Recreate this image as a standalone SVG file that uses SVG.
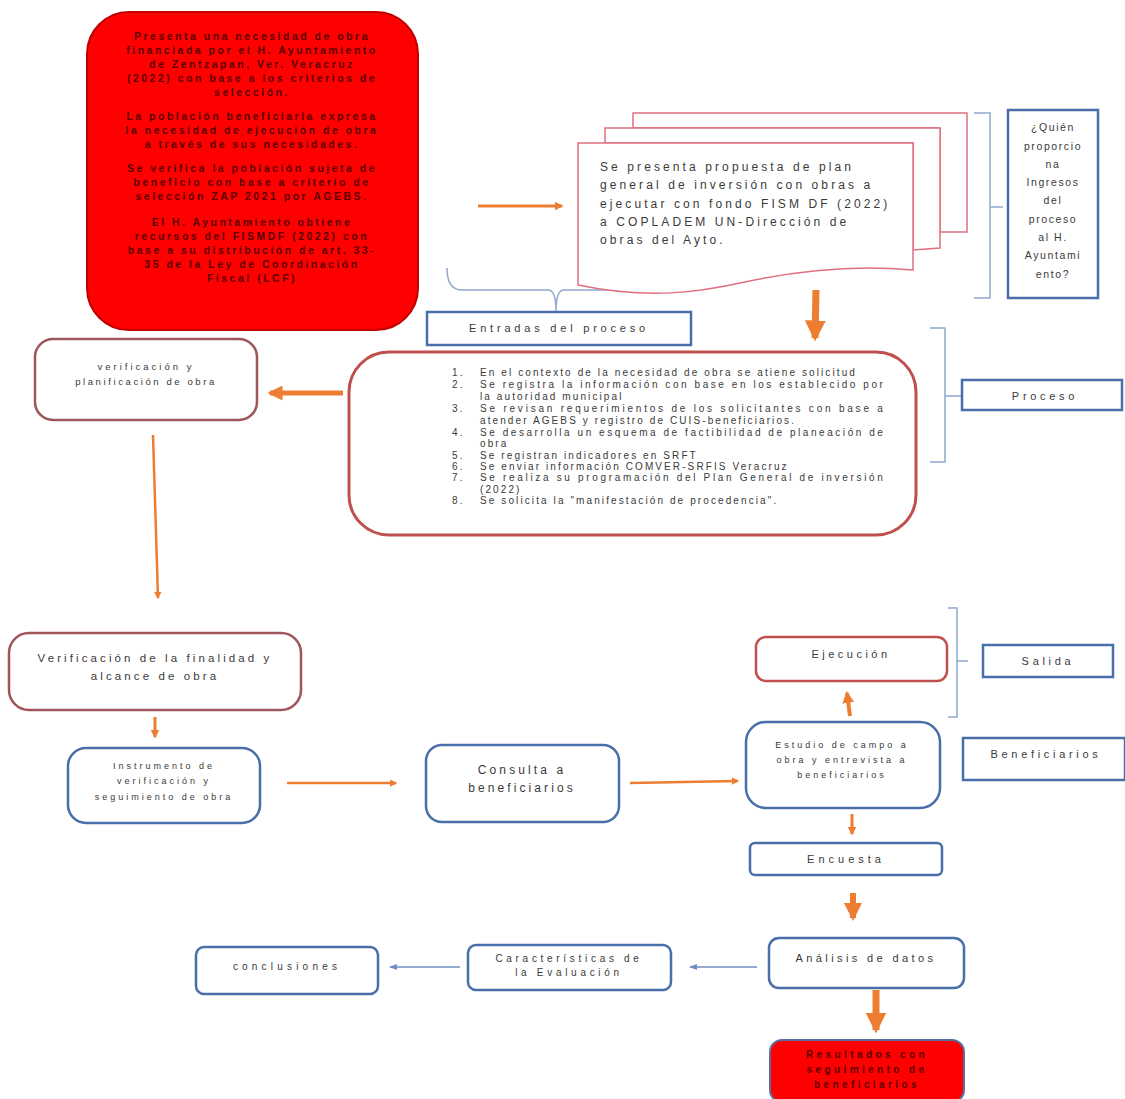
<svg xmlns="http://www.w3.org/2000/svg" width="1125" height="1099" viewBox="0 0 1125 1099">
<style>
text{font-family:"Liberation Sans",Arial,sans-serif;fill:#3a3a3a}
.c{text-anchor:middle}
.rb{fill:#ff0000;stroke:#c00000;stroke-width:2}
.rt{font-size:10.5px;font-weight:bold;fill:#5a0000;letter-spacing:2.5px;text-anchor:middle}
.bb{fill:#fff;stroke:#4a6ea9;stroke-width:2.5}
.mb{fill:#fff;stroke:#a0555b;stroke-width:2.5}
.pb{fill:#fff;stroke:#c0504d;stroke-width:3}
.dp{fill:#fff;stroke:#e07080;stroke-width:1.5}
.br{fill:none;stroke:#8ea9cf;stroke-width:1.5}
.t12{font-size:12px;letter-spacing:3.1px}
.t11{font-size:11px;letter-spacing:3.7px}
.t10{font-size:9.5px;letter-spacing:3px}
.qt{font-size:10.5px;letter-spacing:1.6px;text-anchor:middle}
.pl{font-size:10px;letter-spacing:2.1px}
.oa{stroke:#ed7d31;fill:none}
.ba{stroke:#6f8fc0;stroke-width:1.5;fill:none}
</style>
<defs>
<marker id="ho" markerUnits="strokeWidth" markerWidth="3" markerHeight="3" refX="2.5" refY="1.5" orient="auto"><path d="M0,0 L3,1.5 L0,3 Z" fill="#ed7d31"/></marker>
<marker id="hb" markerUnits="userSpaceOnUse" markerWidth="8" markerHeight="8" refX="7" refY="4" orient="auto"><path d="M0,1 L8,4 L0,7 Z" fill="#6f8fc0"/></marker>
</defs>

<g id="connectors">
<path class="oa" stroke-width="3" d="M478,206 L562,206" marker-end="url(#ho)"/>
<path class="oa" stroke-width="7" d="M816,290 L815,338" marker-end="url(#ho)"/>
<path class="oa" stroke-width="5" d="M343,393 L270,393" marker-end="url(#ho)"/>
<path class="oa" stroke-width="2.5" d="M153,435 L158,598" marker-end="url(#ho)"/>
<path class="oa" stroke-width="3" d="M155,717 L155,737" marker-end="url(#ho)"/>
<path class="oa" stroke-width="2.5" d="M287,783 L396,783" marker-end="url(#ho)"/>
<path class="oa" stroke-width="2.5" d="M630,783 L738,781" marker-end="url(#ho)"/>
<path class="oa" stroke-width="4" d="M850,716 L847,693" marker-end="url(#ho)"/>
<path class="oa" stroke-width="3" d="M852,814 L852,834" marker-end="url(#ho)"/>
<path class="oa" stroke-width="6" d="M853,893 L853,918" marker-end="url(#ho)"/>
<path class="ba" d="M757,967 L690,967" marker-end="url(#hb)"/>
<path class="ba" d="M460,967 L390,967" marker-end="url(#hb)"/>
<path class="oa" stroke-width="7" d="M876,990 L876,1030" marker-end="url(#ho)"/>
<path class="br" d="M447,268 Q447,290 462,290 L548,290 Q556,290 556,311 Q556,290 564,290 L670,290"/>
<path class="br" d="M974,113 L990,113 L990,207 L1003,207 M990,207 L990,298 L974,298"/>
<path class="br" d="M930,328 L945,328 L945,396 L962,396 M945,396 L945,462 L930,462"/>
<path class="br" d="M948,608 L957,608 L957,661 L968,661 M957,661 L957,717 L948,717"/>
</g>

<g id="n-necesidad">
<rect class="rb" x="87" y="12" width="331" height="318" rx="42"/>
<text class="rt" x="252" y="40">Presenta una necesidad de obra</text>
<text class="rt" x="252" y="54">financiada por el H. Ayuntamiento</text>
<text class="rt" x="252" y="68">de  Zentzapan, Ver. Veracruz</text>
<text class="rt" x="252" y="82">(2022) con base a los criterios de</text>
<text class="rt" x="252" y="96">selección.</text>
<text class="rt" x="252" y="120">La población beneficiaria expresa</text>
<text class="rt" x="252" y="134">la necesidad de ejecución de obra</text>
<text class="rt" x="252" y="148">a través de sus necesidades.</text>
<text class="rt" x="252" y="172">Se verifica la población sujeta de</text>
<text class="rt" x="252" y="186">beneficio con base a criterio de</text>
<text class="rt" x="252" y="200">selección ZAP 2021 por AGEBS.</text>
<text class="rt" x="252" y="226">El H. Ayuntamiento obtiene</text>
<text class="rt" x="252" y="240">recursos del FISMDF (2022) con</text>
<text class="rt" x="252" y="254">base a su distribución de art. 33-</text>
<text class="rt" x="252" y="268">35 de la Ley de Coordinación</text>
<text class="rt" x="252" y="282">Fiscal (LCF)</text>
</g>

<g id="n-propuesta">
<path class="dp" d="M633,113 L967,113 L967,232 L940,232 L940,128 L633,128 Z"/>
<path class="dp" d="M605,128 L940,128 L940,248 L913,250 L913,143 L605,143 Z"/>
<path class="dp" d="M578,143 L913,143 L913,270 C860,265 800,270 745,282 C700,292 650,300 578,285 Z"/>
<text class="t12" x="600" y="171">Se presenta propuesta de  plan</text>
<text class="t12" x="600" y="189">general de inversión con obras a</text>
<text class="t12" x="600" y="208">ejecutar con fondo FISM DF (2022)</text>
<text class="t12" x="600" y="226">a COPLADEM UN-Dirección de</text>
<text class="t12" x="600" y="244">obras del Ayto.</text>
</g>

<g id="n-quien">
<rect class="bb" x="1008" y="110" width="90" height="188"/>
<text class="qt" x="1053" y="131">¿Quién</text>
<text class="qt" x="1053" y="150">proporcio</text>
<text class="qt" x="1053" y="168">na</text>
<text class="qt" x="1053" y="186">Ingresos</text>
<text class="qt" x="1053" y="204">del</text>
<text class="qt" x="1053" y="223">proceso</text>
<text class="qt" x="1053" y="241">al H.</text>
<text class="qt" x="1053" y="259">Ayuntami</text>
<text class="qt" x="1053" y="278">ento?</text>
</g>

<g id="n-entradas">
<rect class="bb" x="427" y="312" width="264" height="33"/>
<text class="t11 c" x="559" y="332" style="letter-spacing:3.8px">Entradas del proceso</text>
</g>

<g id="n-proceso-lista">
<rect class="pb" x="349" y="352" width="567" height="183" rx="40"/>
<text class="pl" x="452" y="376">1.</text>
<text class="pl" x="480" y="376">En el contexto de la necesidad de obra se atiene solicitud</text>
<text class="pl" x="452" y="388">2.</text>
<text class="pl" x="480" y="388" textLength="405" lengthAdjust="spacing">Se registra la información con base en los establecido por</text>
<text class="pl" x="480" y="400">la autoridad municipal</text>
<text class="pl" x="452" y="412">3.</text>
<text class="pl" x="480" y="412" textLength="405" lengthAdjust="spacing">Se revisan requerimientos de los solicitantes con base a</text>
<text class="pl" x="480" y="424">atender AGEBS y registro de CUIS-beneficiarios.</text>
<text class="pl" x="452" y="436">4.</text>
<text class="pl" x="480" y="436" textLength="405" lengthAdjust="spacing">Se desarrolla un esquema de factibilidad de planeación de</text>
<text class="pl" x="480" y="447">obra</text>
<text class="pl" x="452" y="459">5.</text>
<text class="pl" x="480" y="459">Se registran indicadores en SRFT</text>
<text class="pl" x="452" y="470">6.</text>
<text class="pl" x="480" y="470">Se enviar información COMVER-SRFIS Veracruz</text>
<text class="pl" x="452" y="481">7.</text>
<text class="pl" x="480" y="481" textLength="405" lengthAdjust="spacing">Se realiza su programación del Plan General de inversión</text>
<text class="pl" x="480" y="493">(2022)</text>
<text class="pl" x="452" y="504">8.</text>
<text class="pl" x="480" y="504">Se solicita la "manifestación de procedencia".</text>
</g>

<g id="n-proceso">
<rect class="bb" x="962" y="380" width="160" height="30"/>
<text class="t11 c" x="1045" y="400">Proceso</text>
</g>

<g id="n-planificacion">
<rect class="mb" x="35" y="339" width="222" height="81" rx="18"/>
<text class="t10 c" x="146" y="370" style="font-size:9.5px">verificación y</text>
<text class="t10 c" x="146" y="385" style="font-size:9.5px;letter-spacing:2.6px">planificación de obra</text>
</g>

<g id="n-finalidad">
<rect class="mb" x="9" y="633" width="292" height="77" rx="20"/>
<text class="t12 c" x="155" y="662" style="font-size:11.5px">Verificación de la finalidad y</text>
<text class="t12 c" x="155" y="680" style="font-size:11.5px">alcance de obra</text>
</g>

<g id="n-instrumento">
<rect class="bb" x="68" y="748" width="192" height="75" rx="18"/>
<text class="t10 c" x="164" y="769" style="font-size:9px">Instrumento de</text>
<text class="t10 c" x="164" y="784" style="font-size:9px">verificación y</text>
<text class="t10 c" x="164" y="800" style="font-size:9px">seguimiento de obra</text>
</g>

<g id="n-consulta">
<rect class="bb" x="426" y="745" width="193" height="77" rx="16"/>
<text class="t12 c" x="522" y="774">Consulta a</text>
<text class="t12 c" x="522" y="792">beneficiarios</text>
</g>

<g id="n-estudio">
<rect class="bb" x="746" y="722" width="194" height="86" rx="20"/>
<text class="t10 c" x="842" y="748" style="font-size:9px">Estudio de campo a</text>
<text class="t10 c" x="842" y="763" style="font-size:9px">obra y entrevista a</text>
<text class="t10 c" x="842" y="778" style="font-size:9px">beneficiarios</text>
</g>

<g id="n-ejecucion">
<rect class="pb" x="756" y="637" width="191" height="44" rx="10" style="stroke-width:2.5"/>
<text class="t11 c" x="851" y="658" style="letter-spacing:3.5px">Ejecución</text>
</g>

<g id="n-salida">
<rect class="bb" x="983" y="645" width="130" height="32"/>
<text class="t11 c" x="1048" y="665">Salida</text>
</g>

<g id="n-beneficiarios">
<rect class="bb" x="963" y="738" width="162" height="42"/>
<text class="t11 c" x="1046" y="758">Beneficiarios</text>
</g>

<g id="n-encuesta">
<rect class="bb" x="750" y="843" width="192" height="32" rx="5"/>
<text class="t11 c" x="846" y="863" style="letter-spacing:4px">Encuesta</text>
</g>

<g id="n-analisis">
<rect class="bb" x="769" y="938" width="195" height="50" rx="10"/>
<text class="t11 c" x="866" y="962" style="letter-spacing:3.4px">Análisis de datos</text>
</g>

<g id="n-caracteristicas">
<rect class="bb" x="468" y="945" width="203" height="45" rx="8"/>
<text class="t10 c" x="569" y="962" style="font-size:10px;letter-spacing:3.7px">Características de</text>
<text class="t10 c" x="569" y="976" style="font-size:10px;letter-spacing:3.7px">la Evaluación</text>
</g>

<g id="n-conclusiones">
<rect class="bb" x="196" y="947" width="182" height="47" rx="8"/>
<text class="t10 c" x="287" y="970" style="font-size:10px;letter-spacing:4.2px">conclusiones</text>
</g>

<g id="n-resultados">
<rect x="770" y="1040" width="194" height="62" rx="12" fill="#ff0000" stroke="#5a6fa0" stroke-width="2"/>
<text class="rt" x="867" y="1058" style="font-size:10px;letter-spacing:3.4px">Resultados con</text>
<text class="rt" x="867" y="1073" style="font-size:10px;letter-spacing:3.4px">seguimiento de</text>
<text class="rt" x="867" y="1088" style="font-size:10px;letter-spacing:3.4px">beneficiarios</text>
</g>
</svg>
